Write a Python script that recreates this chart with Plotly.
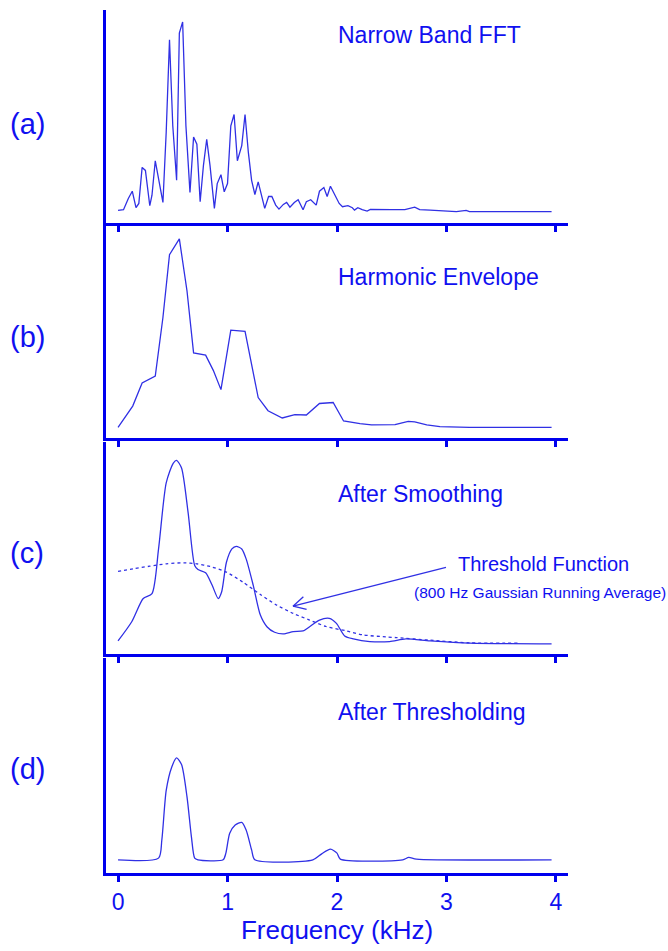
import plotly.graph_objects as go
import math

# ---------------- data (frequency in kHz, amplitude in arbitrary units) ----------------
fft_f = [0.00, 0.05, 0.094, 0.13, 0.164, 0.19, 0.22, 0.25, 0.29, 0.31, 0.34, 0.37, 0.41, 0.44,
         0.47, 0.50, 0.535, 0.56, 0.59, 0.62, 0.657, 0.69, 0.72, 0.75, 0.78, 0.81, 0.84, 0.88,
         0.906, 0.94, 0.97, 1.00, 1.03, 1.06, 1.09, 1.13, 1.16, 1.19, 1.22, 1.25, 1.28, 1.31,
         1.34, 1.375, 1.405, 1.44, 1.47, 1.51, 1.54, 1.57, 1.61, 1.645, 1.69, 1.72, 1.76, 1.81,
         1.84, 1.88, 1.91, 1.94, 1.98, 2.02, 2.05, 2.10, 2.14, 2.16, 2.19, 2.23, 2.275, 2.305,
         2.50, 2.62, 2.71, 2.755, 2.85, 2.97, 3.09, 3.18, 3.21, 3.96]
fft_a = [13, 13.7, 25, 32.3, 15.7, 20, 56.3, 53.3, 17.7, 28.3, 63, 45, 21, 92,
         185, 98.3, 43.3, 191.7, 203, 98.3, 31, 87, 79.7, 21.7, 58.3, 84.7, 58.3, 15,
         40, 49, 31.7, 40, 98.3, 109.7, 63, 78.3, 109.7, 71.7, 43.3, 29, 41.7, 28.3,
         15, 27, 27, 18.3, 14.3, 19, 21, 16.3, 21, 23.7, 13.7, 21.7, 23.7, 18.3,
         32.3, 36, 27, 37.3, 28.3, 20, 16.7, 17.7, 15.7, 13.3, 15.7, 13.7, 12.3, 14,
         13.7, 13.7, 16.3, 13.7, 13.3, 12.3, 11.7, 13, 11.7, 11.7]

env_f = [0.00, 0.134, 0.22, 0.34, 0.41, 0.47, 0.56, 0.63, 0.69, 0.80, 0.87, 0.94, 1.03, 1.16,
         1.28, 1.37, 1.50, 1.615, 1.72, 1.84, 1.965, 2.06, 2.21, 2.315, 2.53, 2.65, 2.71,
         2.82, 2.94, 3.21, 3.96]
env_a = [10.3, 31.7, 55, 62, 121, 184.3, 200.3, 147.7, 85.3, 83, 67.7, 48.3, 108.3, 107,
         40.3, 27, 19.7, 23, 22.7, 34.3, 35.3, 16.7, 14, 12.7, 13, 16.3, 15.7,
         12.7, 11, 10.3, 10.3]

smo_f = [0.00, 0.125, 0.23, 0.31, 0.37, 0.44, 0.505, 0.535, 0.58, 0.64, 0.70, 0.73, 0.80, 0.86,
         0.915, 0.946, 0.99, 1.04, 1.08, 1.13, 1.17, 1.235, 1.30, 1.36, 1.43, 1.51, 1.60,
         1.69, 1.75, 1.84, 1.93, 1.995, 2.07, 2.15, 2.30, 2.48, 2.63, 2.85, 3.21, 3.96]
smo_a = [13, 32.3, 55.7, 60.7, 105.7, 172.3, 192.3, 195, 187.3, 142.3, 89, 85, 81.7, 69,
         55.7, 62.3, 92.3, 105.7, 108.3, 105.7, 95.7, 69, 39, 27.3, 21.7, 20, 22.3,
         23, 27.3, 34, 35.7, 30.7, 18, 15, 12.3, 12.3, 15, 13, 10.7, 10]

thr_f = [0.00, 0.14, 0.29, 0.44, 0.60, 0.72, 0.84, 0.99, 1.14, 1.30, 1.45, 1.60, 1.75, 1.90,
         2.09, 2.24, 2.45, 2.54, 2.85, 3.21, 3.65]
thr_a = [83, 85.7, 88.3, 90.7, 91.7, 90.7, 88, 82.3, 72.3, 59.7, 49, 40.7, 34, 27.5,
         23, 19, 17, 16.3, 13.7, 11, 10.7]

thd_f = [0.00, 0.37, 0.40, 0.44, 0.49, 0.535, 0.58, 0.63, 0.67, 0.70, 0.73, 0.96, 0.985, 1.02,
         1.07, 1.13, 1.17, 1.22, 1.25, 1.78, 1.86, 1.94, 2.00, 2.03, 2.60, 2.655, 2.725, 3.96]
thd_a = [13.3, 15, 33.3, 83.3, 106.7, 116, 109.3, 76.7, 36.7, 15, 13.3, 13.3, 20, 40,
         48.3, 51, 43.3, 23.3, 13.3, 13.3, 19.3, 24, 20, 14, 13.3, 15.7, 14, 13.3]

panel_labels = ["(a)", "(b)", "(c)", "(d)"]
panel_titles = ["Narrow Band FFT", "Harmonic Envelope", "After Smoothing", "After Thresholding"]
tick_vals = [0, 1, 2, 3, 4]
tick_text = ["0", "1", "2", "3", "4"]
x_title = "Frequency (kHz)"
thr_label = "Threshold Function"
thr_sub = "(800 Hz Gaussian Running Average)"

# ---------------- layout geometry ----------------
W, H = 668, 951
ML, MR, MT, MB = 106, 100, 10, 71
PW = W - ML - MR
PH = H - MT - MB
spans = [(10, 225), (228, 441), (445, 659), (663, 880)]


def py2paper(py):
    return (H - MB - py) / PH


def px2paper(px):
    return (px - ML) / PW


AX = "#0000ee"
LN = "#3030e4"
TX = "#1010f0"
FONT = "Liberation Sans, Arial, sans-serif"

fig = go.Figure()

series = [
    [(fft_f, fft_a, "linear", "solid")],
    [(env_f, env_a, "linear", "solid")],
    [(smo_f, smo_a, "spline", "solid"), (thr_f, thr_a, "spline", "dot")],
    [(thd_f, thd_a, "spline", "solid")],
]

for i in range(4):
    xn = "x" if i == 0 else f"x{i+1}"
    yn = "y" if i == 0 else f"y{i+1}"
    for (xs, ys, shp, dash) in series[i]:
        fig.add_trace(go.Scatter(
            x=xs, y=ys, mode="lines", xaxis=xn, yaxis=yn, showlegend=False,
            line=dict(color=LN, width=1.3, shape=shp, dash=dash,
                      smoothing=0.7 if shp == "spline" else None),
            hoverinfo="skip"))
    top, bot = spans[i]
    xkey = "xaxis" if i == 0 else f"xaxis{i+1}"
    ykey = "yaxis" if i == 0 else f"yaxis{i+1}"
    fig.update_layout({
        xkey: dict(domain=[0, 1], anchor=yn, range=[-0.11, 4.11],
                   showline=True, linecolor=AX, linewidth=3,
                   ticks="outside", ticklen=6, tickwidth=2.5, tickcolor=AX,
                   tickvals=tick_vals, ticktext=tick_text,
                   showticklabels=(i == 3), showgrid=False, zeroline=False,
                   tickfont=dict(family=FONT, size=23, color=TX),
                   title=dict(text=x_title if i == 3 else "",
                              font=dict(family=FONT, size=26, color=TX), standoff=8)),
        ykey: dict(domain=[py2paper(bot), py2paper(top)], anchor=xn,
                   range=[0, bot - top], showline=True, linecolor=AX, linewidth=3,
                   ticks="", showticklabels=False, showgrid=False, zeroline=False),
    })

label_y = [125, 340, 557, 775]
title_y = [35, 279, 498, 718]
for i in range(4):
    fig.add_annotation(text=panel_labels[i], xref="paper", yref="paper",
                       x=px2paper(8), y=py2paper(label_y[i]), xanchor="left", yanchor="middle",
                       showarrow=False, font=dict(family=FONT, size=29, color=TX))
    fig.add_annotation(text=panel_titles[i], xref="paper", yref="paper",
                       x=px2paper(336), y=py2paper(title_y[i]), xanchor="left", yanchor="middle",
                       showarrow=False, font=dict(family=FONT, size=23, color=TX))

fig.add_annotation(text=thr_label, xref="paper", yref="paper",
                   x=px2paper(456), y=py2paper(568), xanchor="left", yanchor="middle",
                   showarrow=False, font=dict(family=FONT, size=20, color=TX))
fig.add_annotation(text=thr_sub, xref="paper", yref="paper",
                   x=px2paper(412), y=py2paper(597), xanchor="left", yanchor="middle",
                   showarrow=False, font=dict(family=FONT, size=15.5, color=TX))

# arrow (open head) pointing at the threshold curve
tip = (293, 611)
tail = (446, 572)
dx, dy = tail[0] - tip[0], tail[1] - tip[1]
L = math.hypot(dx, dy)
ux, uy = dx / L, dy / L
arm = 14
for ang in (math.radians(28), math.radians(-28)):
    ex = tip[0] + arm * (ux * math.cos(ang) - uy * math.sin(ang))
    ey = tip[1] + arm * (ux * math.sin(ang) + uy * math.cos(ang))
    fig.add_shape(type="line", xref="paper", yref="paper",
                  x0=px2paper(tip[0]), y0=py2paper(tip[1]), x1=px2paper(ex), y1=py2paper(ey),
                  line=dict(color=LN, width=1.3))
fig.add_shape(type="line", xref="paper", yref="paper",
              x0=px2paper(tip[0]), y0=py2paper(tip[1]), x1=px2paper(tail[0]), y1=py2paper(tail[1]),
              line=dict(color=LN, width=1.3))

fig.update_layout(width=W, height=H, margin=dict(l=ML, r=MR, t=MT, b=MB),
                  paper_bgcolor="white", plot_bgcolor="white",
                  font=dict(family=FONT, color=TX))

fig.write_html("out.html")
